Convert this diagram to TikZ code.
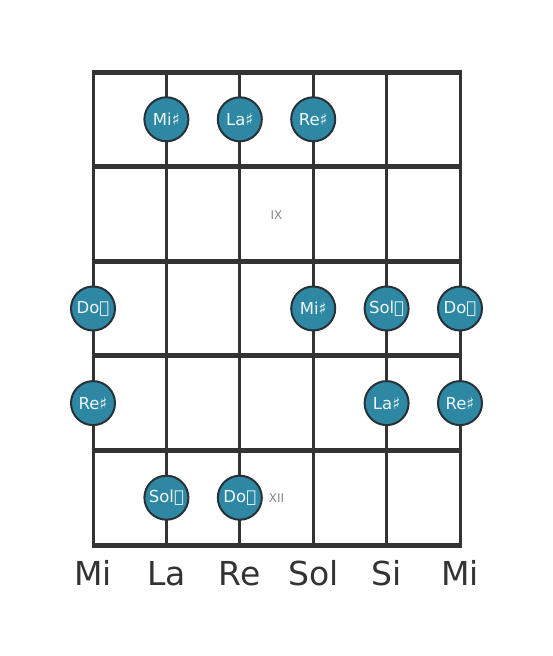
\documentclass[tikz,border=0pt]{standalone}
\usepackage{fontspec}
\setmainfont{DejaVu Sans}
\definecolor{linec}{HTML}{333333}
\definecolor{notefill}{HTML}{2E87A3}
\definecolor{noteedge}{HTML}{263238}
\definecolor{notetext}{HTML}{EEF7FA}
\definecolor{fretlab}{HTML}{888888}
\begin{document}
\begin{tikzpicture}[x=1pt,y=-1pt,
  fretline/.style={line width=5pt,draw=linec},
  stringline/.style={line width=3pt,draw=linec},
  note/.style={circle,draw=noteedge,line width=2pt,fill=notefill,minimum size=44pt,inner sep=0pt,text=notetext,font=\fontsize{16.5}{16.5}\selectfont},
  strlab/.style={text=linec,font=\fontsize{33}{33}\selectfont,anchor=base},
  fretnum/.style={text=fretlab,font=\fontsize{12}{12}\selectfont}]
\useasboundingbox (0,0) rectangle (553,656);
\fill[white] (0,0) rectangle (553,656);
% string coordinates
\foreach \n/\x in {1/93,2/166.4,3/239.8,4/313.2,5/386.6,6/460}{
  \coordinate (t\n) at (\x,72);
  \coordinate (b\n) at (\x,545);
}
\foreach \n in {1,...,6}{\draw[stringline] (t\n) -- (b\n);}
\foreach \f/\y in {0/72,1/166.6,2/261.2,3/355.8,4/450.4,5/545}{
  \coordinate (l\f) at (93,\y);
  \coordinate (r\f) at (460,\y);
  \draw[fretline] ([xshift=-1.5pt]l\f) -- ([xshift=1.5pt]r\f);
}
% notes
\node[note] (n1) at (166.4,119.3) {Mi♯};
\node[note] (n2) at (239.8,119.3) {La♯};
\node[note] (n3) at (313.2,119.3) {Re♯};
\node[note] (n4) at (93,308.5) {Do𝄪};
\node[note] (n5) at (313.2,308.5) {Mi♯};
\node[note] (n6) at (386.6,308.5) {Sol𝄪};
\node[note] (n7) at (460,308.5) {Do𝄪};
\node[note] (n8) at (93,403.1) {Re♯};
\node[note] (n9) at (386.6,403.1) {La♯};
\node[note] (n10) at (460,403.1) {Re♯};
\node[note] (n11) at (166.4,497.7) {Sol𝄪};
\node[note] (n12) at (239.8,497.7) {Do𝄪};
% fret numbers
\node[fretnum] (f9) at (276.5,214.9) {IX};
\node[fretnum] (f12) at (276.5,497.7) {XII};
% string labels
\node[strlab] (s1) at (93,585) {Mi};
\node[strlab] (s2) at (166.4,585) {La};
\node[strlab] (s3) at (239.8,585) {Re};
\node[strlab] (s4) at (313.2,585) {Sol};
\node[strlab] (s5) at (386.6,585) {Si};
\node[strlab] (s6) at (460,585) {Mi};
\end{tikzpicture}
\end{document}
